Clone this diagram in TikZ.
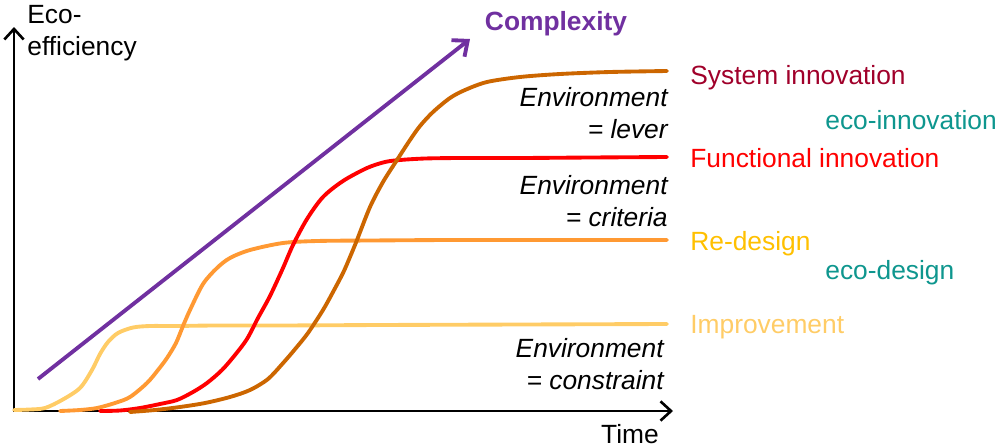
\documentclass[tikz,border=0pt]{standalone}
\usepackage{fontspec}
\setmainfont{Liberation Sans}
\usetikzlibrary{arrows.meta,positioning}
\definecolor{impcol}{HTML}{FFCC66}
\definecolor{redcol}{HTML}{FF9933}
\definecolor{redlbl}{HTML}{FFC000}
\definecolor{funcol}{HTML}{FF0000}
\definecolor{syscol}{HTML}{CC6600}
\definecolor{syslbl}{HTML}{A0002A}
\definecolor{ecocol}{HTML}{0E968E}
\definecolor{cpxcol}{HTML}{7030A0}

\begin{document}
\begin{tikzpicture}[x=0.02cm,y=-0.02cm,
		every node/.style={font=\fontsize{15pt}{18.5pt}\selectfont,inner sep=0pt},
		axis/.style={line width=1.5pt,{Straight Barb[length=6pt,width=11pt]}-{Straight Barb[length=6pt,width=11pt]}},
		curve/.style={line width=2.2pt,line cap=round},
		lbl/.style={anchor=west},
		envtext/.style={align=right,anchor=east,font=\fontsize{15pt}{18.5pt}\selectfont\itshape}]
	\useasboundingbox (0,0) rectangle (1002,447);
	\coordinate (O) at (14,411);
	\coordinate (ytip) at (14,27);
	\coordinate (xtip) at (673,411);
	\coordinate (cpxstart) at (38,379);
	\coordinate (cpxtip) at (470,39);
	%
	\draw[axis] (ytip) -- (O) -- (xtip);
	\draw[cpxcol,line width=2.2pt,-{Straight Barb[length=7pt,width=12pt]}] (cpxstart) -- (cpxtip);
	%
	\draw[curve,impcol] plot[smooth,tension=0.5] coordinates {(14,410) (30,409.5) (45,408) (62,400) (80,388) (92,370) (100,354) (108,342) (118,333) (133,327.5) (150,326) (175,326) (215,325.5) (280,325.5) (380,325) (520,324.5) (667,324)};
	\draw[curve,redcol] plot[smooth,tension=0.5] coordinates {(60,411) (80,410) (97,408) (115,403) (130,397) (147,383) (158,370) (167,358) (176,343) (183,326) (190,310) (203,284) (217,268) (230,258) (250,250) (283,243) (317,241) (370,240.5) (450,240) (550,240) (667,240)};
	\draw[curve,funcol] plot[smooth,tension=0.5] coordinates {(100,411) (120,410.5) (140,408) (160,404) (177,400) (193,392) (207,383) (222,370) (235,355) (247,339) (258,318) (270,296) (283,268) (293,245) (307,219) (323,197) (343,181) (367,168) (385,162) (400,160) (425,158.5) (460,158) (520,158) (590,157.5) (667,157)};
	\draw[curve,syscol] plot[smooth,tension=0.5] coordinates {(130,412) (155,410) (180,407) (205,403) (230,397) (250,390) (268,379) (284,362) (296,348) (308,333) (323,310) (333,292) (343,273) (350,257) (357,240) (370,207) (383,182) (397,160) (410,140) (420,126) (433,112) (450,98) (465,90) (487,82) (520,77) (560,74) (610,72) (667,71)};
	%
	\node[anchor=west,align=left] (yname) at (27,33) {Eco-\\efficiency};
	\node (xname) at (630,434) {Time};
	\node[cpxcol,font=\fontsize{15pt}{18pt}\selectfont\bfseries] (cpx) at (556,24) {Complexity};
	%
	\node[lbl,syslbl] (sys) at (690,78) {System innovation};
	\node[lbl,funcol] (fun) at (690,158) {Functional innovation};
	\node[lbl,redlbl] (red) at (690,244) {Re-design};
	\node[lbl,impcol] (imp) at (690,327) {Improvement};
	\node[lbl,ecocol] (ecoinn) at (825,120) {eco-innovation};
	\node[lbl,ecocol] (ecodes) at (825,273) {eco-design};
	%
	\node[envtext] (lever) at (668,113) {Environment\\= lever};
	\node[envtext] (criteria) at (668,201) {Environment\\= criteria};
	\node[envtext] (constraint) at (664,364) {Environment\\= constraint};
\end{tikzpicture}
\end{document}
